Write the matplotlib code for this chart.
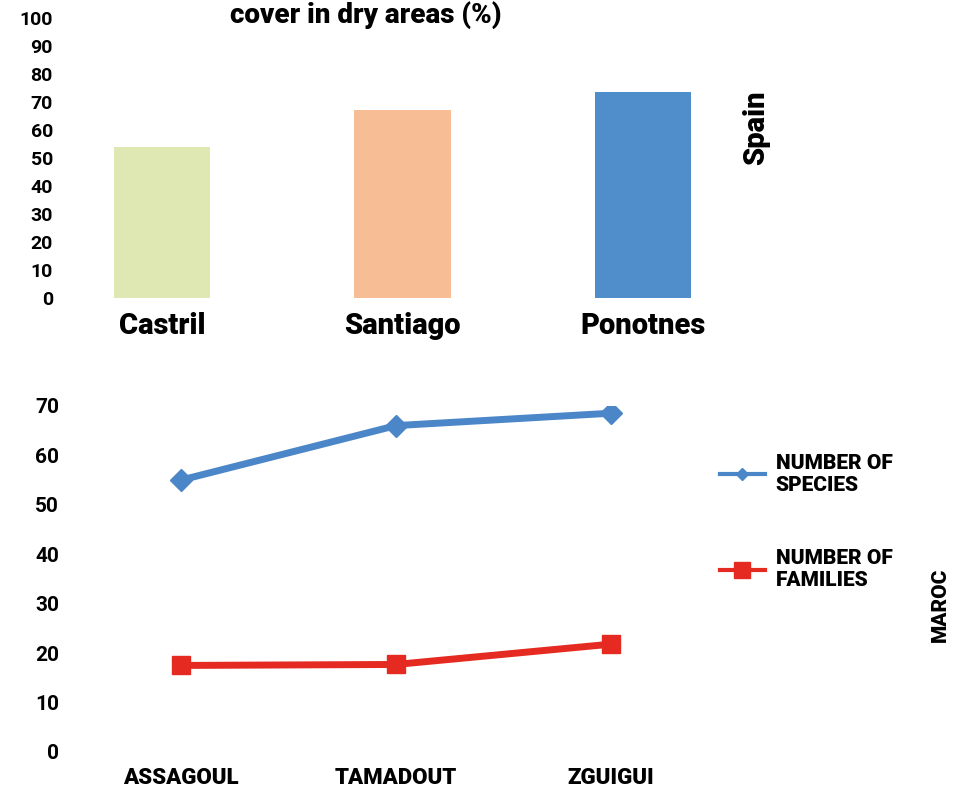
import matplotlib
matplotlib.use("Agg")
import matplotlib.pyplot as plt
from matplotlib.lines import Line2D

plt.rcParams['font.family'] = ['Roboto', 'DejaVu Sans']
plt.rcParams['font.weight'] = 'bold'

# top panel: vegetation cover in dry areas, Spain
sites_es = ["Castril", "Santiago", "Ponotnes"]
cover = [54, 67, 73.5]
bar_colors = ["#dfe8b3", "#f7bd94", "#4f8dcb"]
cover_ticks = list(range(0, 101, 10))

# bottom panel: Morocco
sites_ma = ["ASSAGOUL", "TAMADOUT", "ZGUIGUI"]
species = [55, 66, 68.5]
families = [17.5, 17.7, 21.8]
count_ticks = list(range(0, 71, 10))

W = 'black'

fig = plt.figure(figsize=(9.64, 7.88), dpi=100)

# %% bar chart
ax1 = fig.add_axes([0.062, 0.622, 0.685, 0.355])
x1 = range(len(sites_es))
ax1.bar(x1, cover, width=0.4, color=bar_colors)
ax1.set_xlim(-0.424, 2.32)
ax1.set_ylim(0, 100)
ax1.set_yticks(cover_ticks)
ax1.set_xticks(list(x1))
ax1.set_xticklabels(sites_es, fontsize=21, fontweight=W)
ax1.tick_params(axis='y', length=0, pad=5, labelsize=14)
ax1.tick_params(axis='x', length=0, pad=10)
for s in ax1.spines.values():
    s.set_visible(False)

fig.text(0.379, 0.999, "cover in dry areas (%)", ha='center', va='top',
         fontsize=20, fontweight=W)
fig.text(0.784, 0.838, "Spain", rotation=90, ha='center', va='center',
         fontsize=21, fontweight=W)

# %% line chart
ax2 = fig.add_axes([0.073, 0.0457, 0.654, 0.4393])
x2 = range(len(sites_ma))
ax2.plot(x2, species, color="#4a86c8", lw=5, marker='D', ms=11)
ax2.plot(x2, families, color="#e52a21", lw=5, marker='s', ms=13)
ax2.set_xlim(-0.517, 2.42)
ax2.set_ylim(0, 70)
ax2.set_yticks(count_ticks)
ax2.set_xticks(list(x2))
ax2.set_xticklabels(sites_ma, fontsize=16, fontweight=W)
ax2.tick_params(axis='y', length=0, pad=8, labelsize=15)
ax2.tick_params(axis='x', length=0, pad=11)
for s in ax2.spines.values():
    s.set_visible(False)

handles = [
    Line2D([], [], color="#4a86c8", lw=3, marker='D', ms=6),
    Line2D([], [], color="#e52a21", lw=3, marker='s', ms=12),
]
fig.legend(handles, ["NUMBER OF\nSPECIES", "NUMBER OF\nFAMILIES"],
           loc='upper left', bbox_to_anchor=(0.727, 0.448), frameon=False,
           prop={'size': 15, 'weight': W}, handlelength=2.2,
           labelspacing=2.6, handletextpad=0.5)
fig.text(0.976, 0.232, "MAROC", rotation=90, ha='center', va='center',
         fontsize=15, fontweight=W)

fig.savefig("out.png", dpi=100)
